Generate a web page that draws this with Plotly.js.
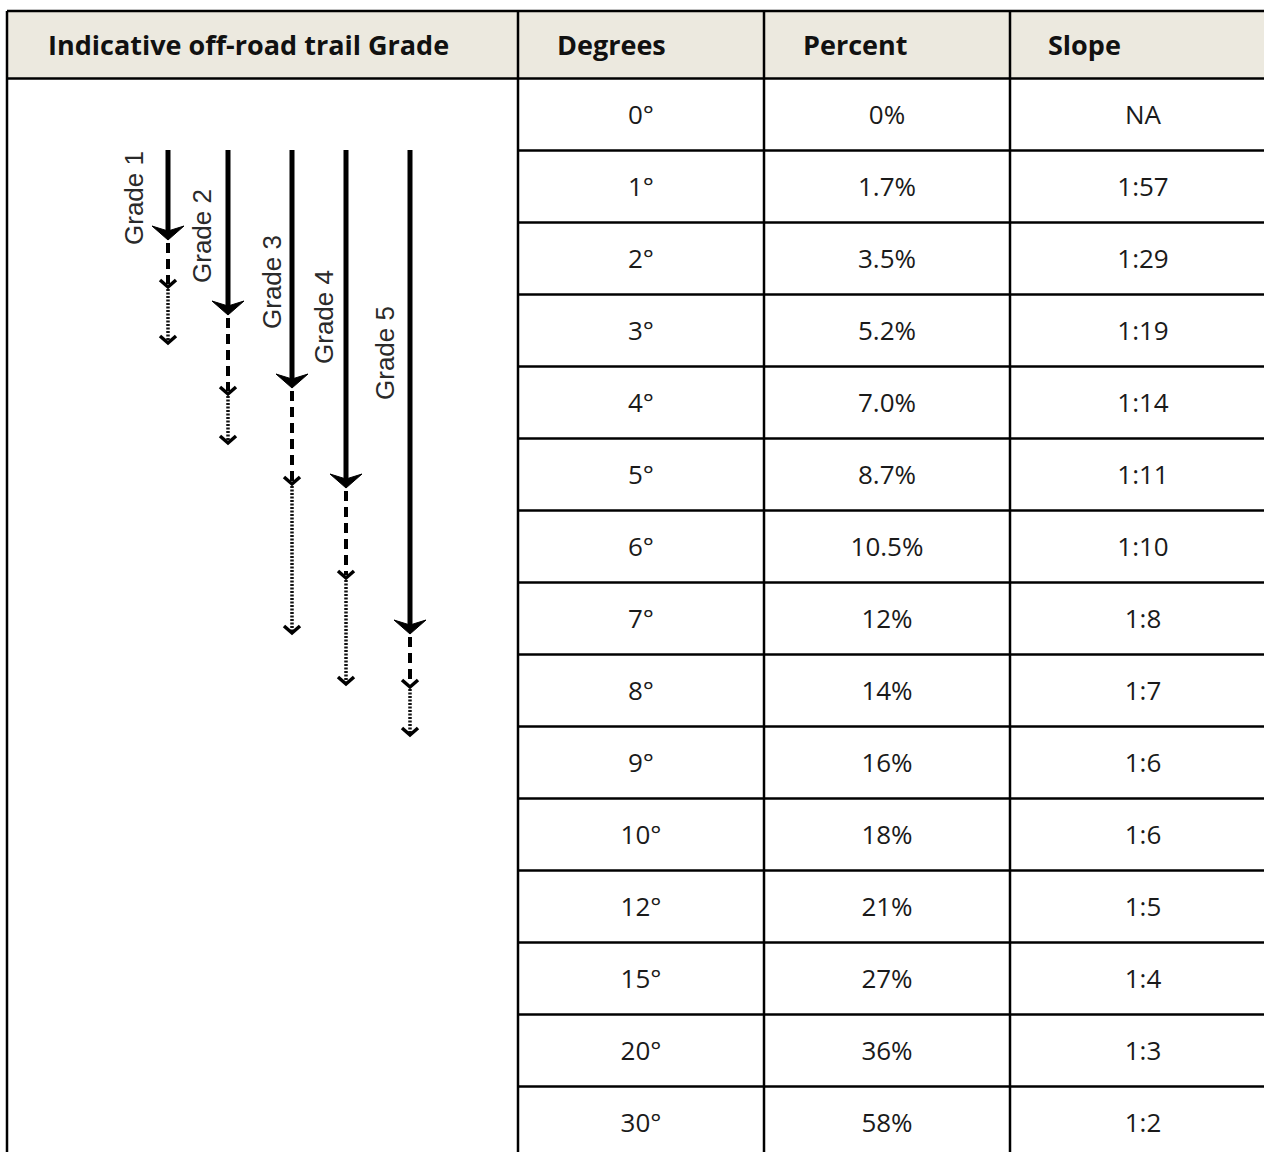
<!DOCTYPE html>
<html>
<head>
<meta charset="utf-8">
<script src="https://cdn.plot.ly/plotly-3.0.1.min.js"></script>
<style>html,body{margin:0;padding:0;background:#fff;}#chart{width:1264px;height:1152px;}</style>
</head>
<body>
<div id="chart"></div>
<script>
// ---- data ----
const headers = ['Indicative off-road trail Grade', 'Degrees', 'Percent', 'Slope'];
const degrees = [0, 1, 2, 3, 4, 5, 6, 7, 8, 9, 10, 12, 15, 20, 30];
const percents = ['0%', '1.7%', '3.5%', '5.2%', '7.0%', '8.7%', '10.5%', '12%', '14%', '16%', '18%', '21%', '27%', '36%', '58%'];
const slopes = ['NA', '1:57', '1:29', '1:19', '1:14', '1:11', '1:10', '1:8', '1:7', '1:6', '1:6', '1:5', '1:4', '1:3', '1:2'];
const grades = ['Grade 1', 'Grade 2', 'Grade 3', 'Grade 4', 'Grade 5'];
// grade zone ends on the diagram scale (solid / dashed / dotted)
const gradeSolidEnd = [240, 315, 388, 488, 634];
const gradeDashedEnd = [287, 394, 484, 578, 687];
const gradeDottedEnd = [343, 443, 633, 684, 735];

// ---- layout constants ----
const W = 1264, H = 1152;
const colEdges = [7, 518, 764, 1010, 1276];
const tableTop = 11, headerBottom = 78.5, rowH = 72;
const headerPad = [39, 37, 37, 36];
const textShift = 2.5;
const diag = {
  top: 150,
  lineX: [168, 228, 292, 346, 410],
  labelX: [134, 202, 272, 324, 385],
  labelY: [198, 236, 282, 317, 353]
};
const lineColor = '#000';
const headerFill = '#ECE9DF';

const rowCenter = i => headerBottom + rowH * (i + 0.5);
const colCenter = c => (colEdges[c] + colEdges[c + 1]) / 2;
const nRows = degrees.length;
const tableBottom = headerBottom + rowH * nRows;

const shapes = [];
shapes.push({type: 'rect', x0: colEdges[0], x1: colEdges[colEdges.length - 1],
  y0: tableTop, y1: headerBottom, fillcolor: headerFill, line: {width: 0}, layer: 'below'});
shapes.push({type: 'line', x0: colEdges[0], x1: colEdges[colEdges.length - 1], y0: tableTop, y1: tableTop, line: {color: lineColor, width: 2.5}});
shapes.push({type: 'line', x0: colEdges[0], x1: colEdges[colEdges.length - 1], y0: headerBottom, y1: headerBottom, line: {color: lineColor, width: 2.5}});
for (let i = 1; i <= nRows; i++) {
  const y = headerBottom + rowH * i;
  shapes.push({type: 'line', x0: colEdges[1], x1: colEdges[colEdges.length - 1], y0: y, y1: y, line: {color: lineColor, width: 2.5}});
}
colEdges.forEach(x => {
  shapes.push({type: 'line', x0: x, x1: x, y0: tableTop, y1: tableBottom, line: {color: lineColor, width: 2.5}});
});
shapes.forEach(s => { s.xref = 'x'; s.yref = 'y'; });

const traces = [];
const cellFont = {family: '"Open Sans", "Noto Sans", sans-serif', size: 26, color: '#1a1a1a'};
const cols = [degrees.map(d => d + '°'), percents, slopes];
cols.forEach((vals, k) => {
  traces.push({
    type: 'scatter', mode: 'text', hoverinfo: 'skip', showlegend: false, cliponaxis: false,
    x: vals.map(() => colCenter(k + 1)),
    y: vals.map((v, i) => rowCenter(i) + textShift),
    text: vals, textposition: 'middle center', textfont: cellFont
  });
});

// diagram arrows
grades.forEach((g, i) => {
  const x = diag.lineX[i];
  const s = gradeSolidEnd[i], d = gradeDashedEnd[i], t = gradeDottedEnd[i];
  traces.push({type: 'scatter', mode: 'lines', hoverinfo: 'skip', showlegend: false,
    x: [x, x], y: [diag.top, s - 8], line: {color: '#000', width: 5}});
  traces.push({type: 'scatter', mode: 'lines', hoverinfo: 'skip', showlegend: false,
    x: [x, x], y: [s + 3, d - 3], line: {color: '#000', width: 4, dash: '10px,6px'}});
  traces.push({type: 'scatter', mode: 'lines', hoverinfo: 'skip', showlegend: false,
    x: [x, x], y: [d + 2, t - 2], line: {color: '#111', width: 3.5, dash: '2px,1.5px'}});
  traces.push({type: 'scatter', mode: 'lines', hoverinfo: 'skip', showlegend: false, fill: 'toself',
    fillcolor: '#000', line: {color: '#000', width: 1},
    x: [x, x - 16, x, x + 16, x], y: [s, s - 14, s - 9, s - 14, s]});
  [d, t].forEach(tip => {
    traces.push({type: 'scatter', mode: 'lines', hoverinfo: 'skip', showlegend: false,
      x: [x - 8, x, x + 8], y: [tip - 7, tip, tip - 7], line: {color: '#000', width: 3.5}});
  });
});

const annotations = [];
headers.forEach((h, c) => {
  annotations.push({xref: 'x', yref: 'y', x: colEdges[c] + headerPad[c], y: (tableTop + headerBottom) / 2,
    text: '<b>' + h + '</b>', showarrow: false, xanchor: 'left', yanchor: 'middle',
    font: {family: '"Open Sans", "Noto Sans", sans-serif', size: 27, color: '#111'}});
});
grades.forEach((g, i) => {
  annotations.push({xref: 'x', yref: 'y', x: diag.labelX[i], y: diag.labelY[i], text: g,
    showarrow: false, textangle: -90, xanchor: 'center', yanchor: 'middle',
    font: {family: '"Liberation Sans Narrow", "Arial Narrow", "Liberation Sans", sans-serif', size: 26, color: '#2a2a2a'}});
});

const layout = {
  width: W, height: H,
  margin: {l: 0, r: 0, t: 0, b: 0},
  paper_bgcolor: '#fff', plot_bgcolor: '#fff',
  xaxis: {range: [0, W], visible: false, fixedrange: true},
  yaxis: {range: [H, 0], visible: false, fixedrange: true},
  shapes: shapes, annotations: annotations, showlegend: false
};
Plotly.newPlot('chart', traces, layout, {staticPlot: true, displayModeBar: false});
</script>
</body>
</html>
